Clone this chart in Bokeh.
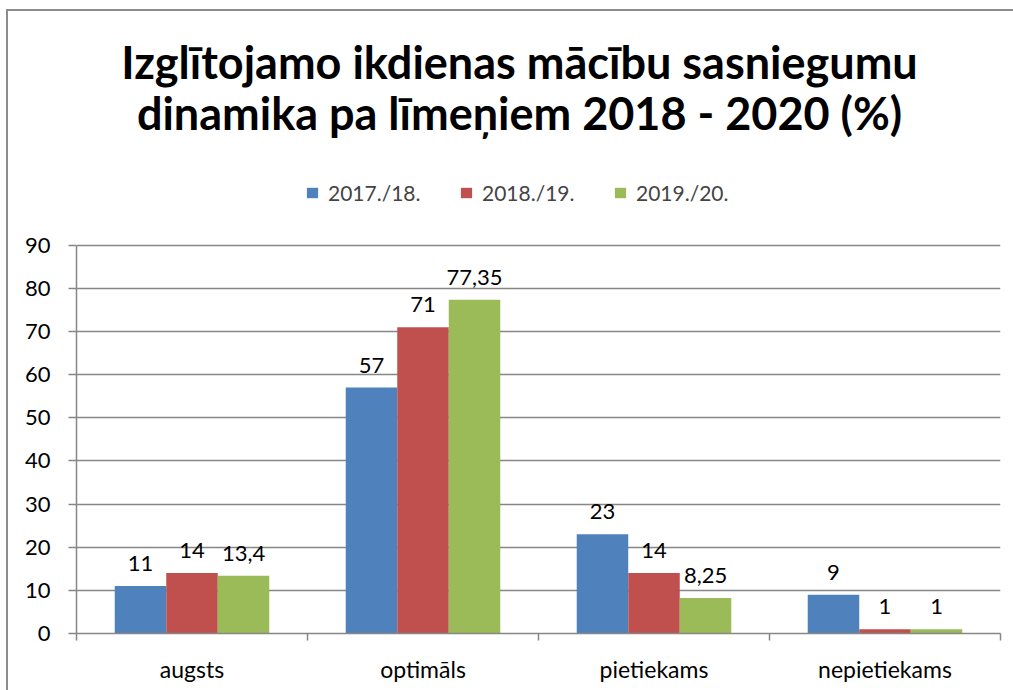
from bokeh.plotting import figure
from bokeh.models import (ColumnDataSource, FixedTicker, Label, LabelSet, Legend, LegendItem,
                          GlobalInlineStyleSheet)
from bokeh.core.properties import value
from bokeh.embed import file_html
from bokeh.resources import INLINE

categories = ["augsts", "optimāls", "pietiekams", "nepietiekams"]
series_names = ["2017./18.", "2018./19.", "2019./20."]
values_1718 = [11, 57, 23, 9]
values_1819 = [14, 71, 14, 1]
values_1920 = [13.4, 77.35, 8.25, 1]
y_ticks = [0, 10, 20, 30, 40, 50, 60, 70, 80, 90]
y_max = 90
title_lines = ["Izglītojamo ikdienas mācību sasniegumu", "dinamika pa līmeņiem 2018 - 2020 (%)"]

colors = ["#4F81BD", "#C0504D", "#9BBB59"]
all_values = [values_1718, values_1819, values_1920]

FONT = "Lato"
GRAY = "#868686"

W, H = 1010, 681
BL, BR, BB = 68, 18, 59
plot_h = 387                      # pixel height of the 0..90 value area
frame_h = (H - 2) - BB            # frame spans up to canvas top (title + legend live inside)
y_end = y_max * frame_h / plot_h

p = figure(width=W, height=H, x_range=(0, 4), y_range=(0, y_end),
           output_backend="svg", toolbar_location=None,
           min_border_left=BL, min_border_right=BR, min_border_top=0, min_border_bottom=BB,
           styles={"margin-left": "6px", "margin-top": "9px",
                   "border-top": "2px solid #8c8c8c", "border-left": "2px solid #8c8c8c"})
p.stylesheets = [GlobalInlineStyleSheet(css="html, body { overflow: hidden !important; }")]
p.outline_line_color = None
p.background_fill_color = "white"
p.border_fill_color = "white"

bar_w = 0.223
offsets = [-bar_w, 0.0, bar_w]
renderers = []
for vals, col, off, name in zip(all_values, colors, offsets, series_names):
    xs = [i + 0.5 + off for i in range(len(categories))]
    labels = [f"{v:g}".replace(".", ",") for v in vals]
    src = ColumnDataSource(dict(x=xs, top=vals, lab=labels))
    r = p.vbar(x="x", top="top", width=bar_w, source=src, fill_color=col, line_color=None)
    renderers.append(r)
    ls = LabelSet(x="x", y="top", text="lab", source=src, y_offset=15,
                  text_align="center", text_baseline="alphabetic",
                  text_font=value(FONT), text_font_size="22px", text_color="black")
    p.add_layout(ls)

# axes
xa = p.xaxis[0]
xa.ticker = FixedTicker(ticks=[i + 0.5 for i in range(len(categories))],
                        minor_ticks=list(range(len(categories) + 1)))
xa.major_label_overrides = {i + 0.5: c for i, c in enumerate(categories)}
xa.major_tick_line_color = None
xa.major_tick_out = 0
xa.major_tick_in = 0
xa.minor_tick_out = 7
xa.minor_tick_in = 0
xa.minor_tick_line_color = GRAY
xa.minor_tick_line_width = 1.5
xa.axis_line_color = GRAY
xa.axis_line_width = 1.5
xa.major_label_standoff = 14
xa.major_label_text_font = FONT
xa.major_label_text_font_size = "23px"
xa.major_label_text_color = "black"

ya = p.yaxis[0]
ya.bounds = (0, y_max)
ya.ticker = FixedTicker(ticks=y_ticks, minor_ticks=[])
ya.major_tick_out = 8
ya.major_tick_in = 0
ya.major_tick_line_color = GRAY
ya.major_tick_line_width = 1.5
ya.minor_tick_line_color = None
ya.axis_line_color = GRAY
ya.axis_line_width = 1.5
ya.major_label_standoff = 18
ya.major_label_text_font = FONT
ya.major_label_text_font_size = "22px"
ya.major_label_text_color = "black"

p.xgrid.grid_line_color = None
p.ygrid.ticker = FixedTicker(ticks=y_ticks)
p.ygrid.grid_line_color = GRAY
p.ygrid.grid_line_width = 1.5

# title (screen units, relative to the frame's bottom-left)
for txt, yy in zip(title_lines, [572, 521]):
    p.add_layout(Label(x=443, y=yy, x_units="screen", y_units="screen", text=txt,
                       text_align="center", text_baseline="alphabetic",
                       text_font=FONT, text_font_style="bold", text_font_size="45px",
                       text_color="black"))

legend = Legend(items=[LegendItem(label=n, renderers=[r]) for n, r in zip(series_names, renderers)],
                orientation="horizontal", location=(229, 428),
                glyph_width=14, glyph_height=13, label_standoff=9, label_width=100,
                spacing=31, padding=0, margin=0,
                label_text_font=FONT, label_text_font_size="21px",
                border_line_color=None, background_fill_alpha=0)
p.add_layout(legend, "center")

open("out.html", "w").write(file_html(p, INLINE))
